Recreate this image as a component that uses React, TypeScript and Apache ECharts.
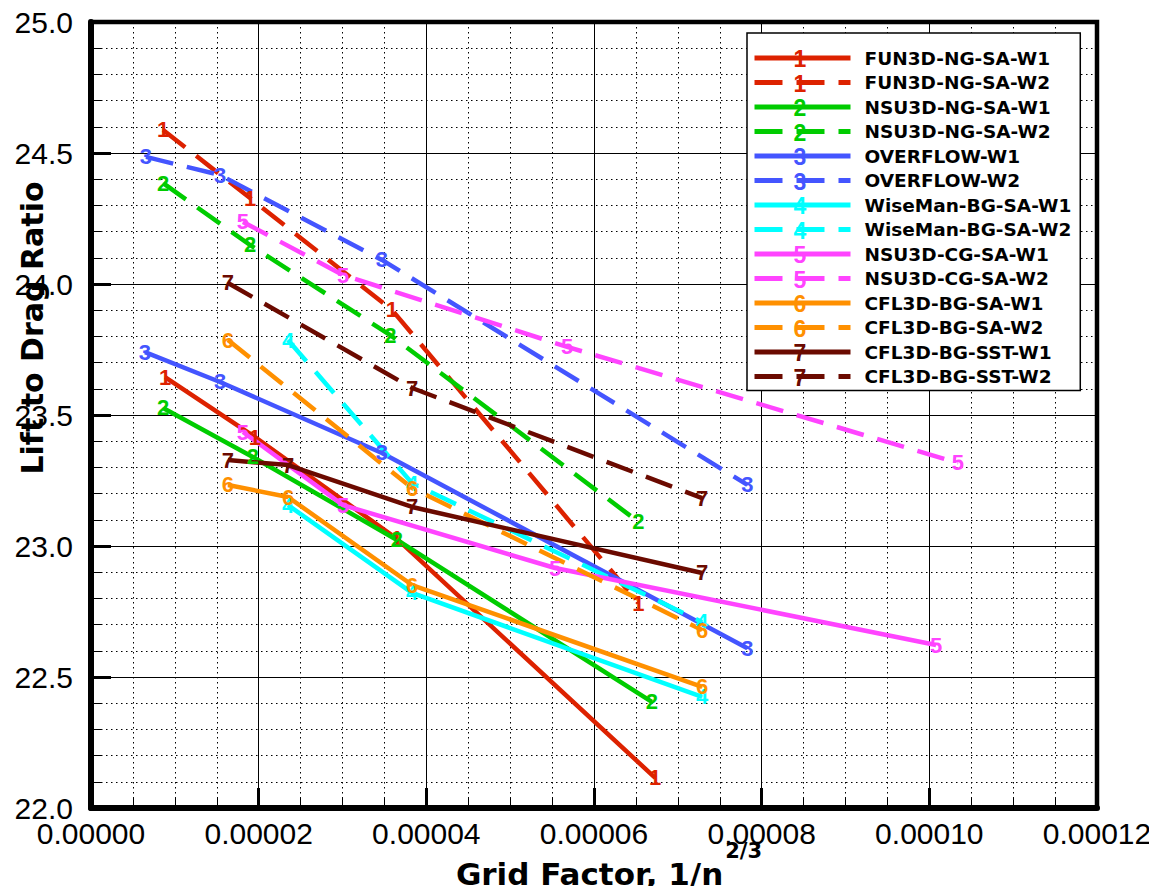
import React, { useEffect, useRef } from "react";
import * as echarts from "echarts";

// ---- Data ----
const seriesNames = [
  "FUN3D-NG-SA-W1", "FUN3D-NG-SA-W2",
  "NSU3D-NG-SA-W1", "NSU3D-NG-SA-W2",
  "OVERFLOW-W1", "OVERFLOW-W2",
  "WiseMan-BG-SA-W1", "WiseMan-BG-SA-W2",
  "NSU3D-CG-SA-W1", "NSU3D-CG-SA-W2",
  "CFL3D-BG-SA-W1", "CFL3D-BG-SA-W2",
  "CFL3D-BG-SST-W1", "CFL3D-BG-SST-W2",
];
const seriesDigits = ["1", "2", "3", "4", "5", "6", "7"];
const familyColors = ["#dd2200", "#00cc00", "#4455ff", "#00ffff", "#ff44ff", "#ff9000", "#6b0a00"];

const fun3dW1X = [8.83e-6, 1.956e-5, 3.65e-5, 6.73e-5];
const fun3dW1Y = [23.645, 23.416, 23.027, 22.115];
const fun3dW2X = [8.6e-6, 1.897e-5, 3.59e-5, 6.53e-5];
const fun3dW2Y = [24.588, 24.328, 23.901, 22.782];

const nsu3dNgW1X = [8.6e-6, 1.93e-5, 3.65e-5, 6.69e-5];
const nsu3dNgW1Y = [23.527, 23.34, 23.023, 22.405];
const nsu3dNgW2X = [8.6e-6, 1.897e-5, 3.57e-5, 6.53e-5];
const nsu3dNgW2Y = [24.385, 24.149, 23.805, 23.092];

const overflowW1X = [6.44e-6, 1.539e-5, 3.47e-5, 7.83e-5];
const overflowW1Y = [23.74, 23.626, 23.355, 22.61];
const overflowW2X = [6.56e-6, 1.539e-5, 3.47e-5, 7.83e-5];
const overflowW2Y = [24.485, 24.416, 24.092, 23.233];

const wisemanW1X = [2.35e-5, 3.83e-5, 7.29e-5];
const wisemanW1Y = [23.156, 22.821, 22.424];
const wisemanW2X = [2.35e-5, 3.83e-5, 7.29e-5];
const wisemanW2Y = [23.786, 23.24, 22.71];

const nsu3dCgW1X = [1.813e-5, 3.006e-5, 5.535e-5, 10.08e-5];
const nsu3dCgW1Y = [23.435, 23.156, 22.916, 22.622];
const nsu3dCgW2X = [1.813e-5, 3.006e-5, 5.68e-5, 10.34e-5];
const nsu3dCgW2Y = [24.237, 24.034, 23.76, 23.317];

const cfl3dSaW1X = [1.634e-5, 2.35e-5, 3.83e-5, 7.29e-5];
const cfl3dSaW1Y = [23.233, 23.187, 22.851, 22.462];
const cfl3dSaW2X = [1.634e-5, 3.83e-5, 7.29e-5];
const cfl3dSaW2Y = [23.786, 23.221, 22.679];

const cfl3dSstW1X = [1.634e-5, 2.35e-5, 3.83e-5, 7.29e-5];
const cfl3dSstW1Y = [23.328, 23.309, 23.149, 22.897];
const cfl3dSstW2X = [1.634e-5, 3.83e-5, 7.29e-5];
const cfl3dSstW2Y = [24.004, 23.603, 23.183];

const allX = [fun3dW1X, fun3dW2X, nsu3dNgW1X, nsu3dNgW2X, overflowW1X, overflowW2X, wisemanW1X, wisemanW2X, nsu3dCgW1X, nsu3dCgW2X, cfl3dSaW1X, cfl3dSaW2X, cfl3dSstW1X, cfl3dSstW2X];
const allY = [fun3dW1Y, fun3dW2Y, nsu3dNgW1Y, nsu3dNgW2Y, overflowW1Y, overflowW2Y, wisemanW1Y, wisemanW2Y, nsu3dCgW1Y, nsu3dCgW2Y, cfl3dSaW1Y, cfl3dSaW2Y, cfl3dSstW1Y, cfl3dSstW2Y];

const xMin = 0, xMax = 0.00012, xStep = 0.00002;
const yMin = 22, yMax = 25, yStep = 0.5;

export default function App() {
  const ref = useRef<HTMLDivElement>(null);
  useEffect(() => {
    if (!ref.current) return;
    const chart = echarts.init(ref.current, undefined, { renderer: "svg" });
    const dash = [28, 14];
    const series = seriesNames.map((name, i) => {
      const fam = Math.floor(i / 2);
      const color = familyColors[fam];
      const digit = seriesDigits[fam];
      return {
        name,
        type: "line",
        data: allX[i].map((x, k) => [x, allY[i][k]]),
        symbol: "circle",
        symbolSize: 1,
        showSymbol: true,
        color,
        itemStyle: { color },
        lineStyle: { color, width: 4.5, type: i % 2 === 1 ? dash : "solid" },
        label: {
          show: true,
          position: "inside",
          formatter: digit,
          color,
          fontSize: 22,
          fontFamily: "Liberation Sans",
          fontWeight: "bold",
        },
        labelLayout: { hideOverlap: false },
        emphasis: { disabled: true },
        z: 3,
      };
    });

    const rowY0 = 58.3, rowPitch = 24.5;
    const legendDigits = seriesNames.map((_, i) => ({
      type: "text",
      x: 800,
      y: rowY0 + i * rowPitch + 1,
      z: 100,
      style: {
        text: seriesDigits[Math.floor(i / 2)],
        fill: familyColors[Math.floor(i / 2)],
        font: "bold 23px 'Liberation Sans'",
        align: "center",
        verticalAlign: "middle",
      },
    }));

    chart.setOption({
      animation: false,
      backgroundColor: "#fff",
      grid: {
        left: 91, right: 60, top: 22, bottom: 86,
        containLabel: false,
        outerBoundsMode: "none",
        show: true, borderColor: "#000", borderWidth: 4.5, backgroundColor: "transparent",
      },
      legend: {
        orient: "vertical",
        left: 747, top: 33,
        padding: [13, 9, 2, 5],
        itemWidth: 96, itemHeight: 24, itemGap: 0.5,
        itemStyle: { opacity: 0 },
        lineStyle: { width: 5 },
        selectedMode: false,
        backgroundColor: "#fff",
        borderColor: "#000",
        borderWidth: 1.5,
        textStyle: {
          fontFamily: "DejaVu Sans", fontWeight: "bold", fontSize: 18.5, color: "#000",
          lineHeight: 24, padding: [0, 0, 0, 9],
        },
        data: seriesNames,
        z: 10,
      },
      graphic: legendDigits,
      xAxis: {
        type: "value",
        min: xMin, max: xMax, interval: xStep,
        name: "{a|Grid Factor, 1/n}{b|2/3}",
        nameLocation: "middle",
        nameGap: 32,
        nameMoveOverlap: false,
        nameTextStyle: {
          padding: [0, 0, 0, 30],
          rich: {
            a: { fontFamily: "DejaVu Sans", fontWeight: "bold", fontSize: 31, lineHeight: 68, color: "#000" },
            b: { fontFamily: "DejaVu Sans", fontWeight: "bold", fontSize: 21, lineHeight: 21, verticalAlign: "top", color: "#000", padding: [0, 0, 0, 2] },
          },
        },
        axisLine: { show: true, onZero: false, lineStyle: { color: "#000", width: 6 } },
        axisTick: { show: true, inside: true, length: 20, lineStyle: { color: "#000", width: 3 } },
        minorTick: { show: true, splitNumber: 4, length: 10, lineStyle: { color: "#000", width: 1 } },
        splitLine: { show: true, lineStyle: { color: "#000", width: 1 } },
        minorSplitLine: { show: true, lineStyle: { color: "#000", width: 1, type: [1.5, 3.5] } },
        axisLabel: {
          formatter: (v: number) => v.toFixed(5),
          fontFamily: "Liberation Sans", fontSize: 30, color: "#000", margin: 10,
        },
      },
      yAxis: {
        type: "value",
        min: yMin, max: yMax, interval: yStep,
        name: "Lift to Drag Ratio",
        nameLocation: "middle",
        nameGap: 44,
        nameMoveOverlap: false,
        nameTextStyle: {
          fontFamily: "DejaVu Sans", fontWeight: "bold", fontSize: 30, color: "#000",
          padding: [0, 0, 0, 174],
        },
        axisLine: { show: true, onZero: false, lineStyle: { color: "#000", width: 6 } },
        axisTick: { show: true, inside: true, length: 20, lineStyle: { color: "#000", width: 3 } },
        minorTick: { show: true, splitNumber: 5, length: 10, lineStyle: { color: "#000", width: 1 } },
        splitLine: { show: true, lineStyle: { color: "#000", width: 1 } },
        minorSplitLine: { show: true, lineStyle: { color: "#000", width: 1, type: [1.5, 3.5] } },
        axisLabel: {
          formatter: (v: number) => v.toFixed(1),
          fontFamily: "Liberation Sans", fontSize: 30, color: "#000", margin: 18,
        },
      },
      series,
    });
    return () => chart.dispose();
  }, []);
  return <div ref={ref} style={{ width: 1157, height: 894, margin: -8 }} />;
}
